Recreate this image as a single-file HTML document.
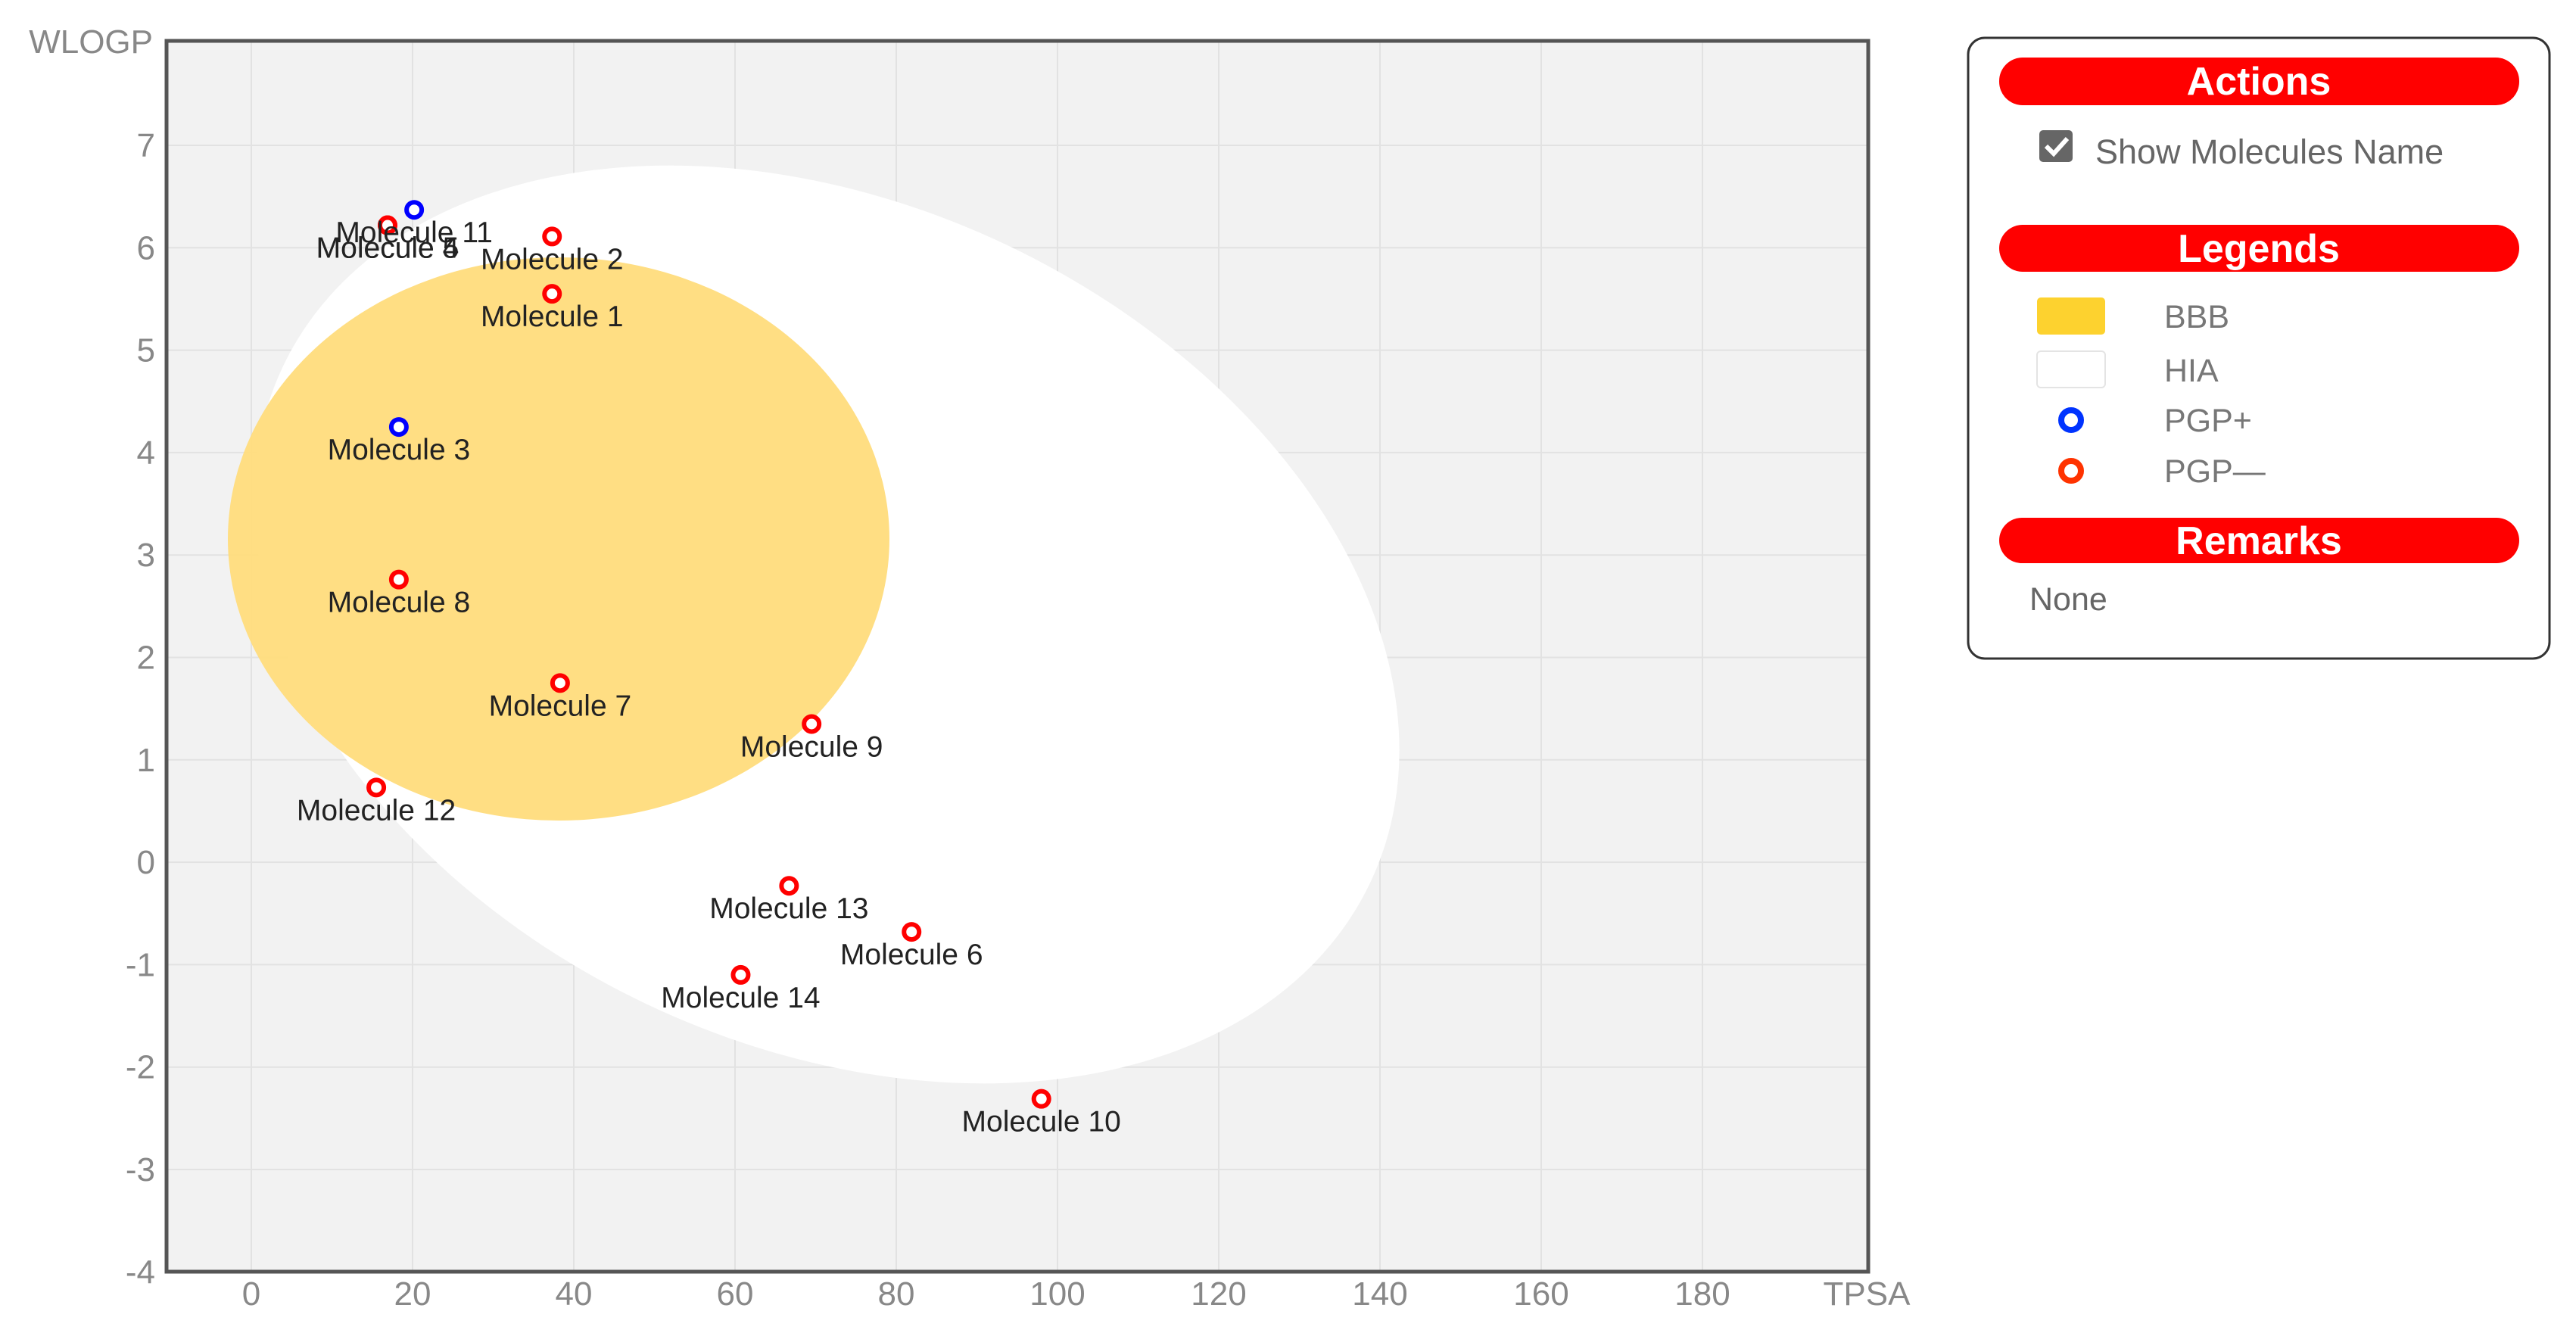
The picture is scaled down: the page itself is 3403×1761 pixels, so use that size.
<!DOCTYPE html>
<html><head><meta charset="utf-8"><style>
html,body{margin:0;padding:0;background:#fff;width:3403px;height:1761px;overflow:hidden;font-family:"Liberation Sans",sans-serif;}
</style></head><body>
<svg id="chart" width="3403" height="1761" viewBox="0 0 3403 1761" xmlns="http://www.w3.org/2000/svg" font-family="Liberation Sans, sans-serif">
  <rect x="220" y="54" width="2248" height="1626" fill="#f2f2f2"/>
  <g id="grid"></g>
  <ellipse cx="1092" cy="825" rx="795" ry="555" transform="rotate(25.4 1092 825)" fill="#ffffff"/>
  <ellipse cx="738" cy="712" rx="437" ry="372" fill="#ffdc7c" fill-opacity="0.95"/>
  <g id="points"></g>
  <rect x="220" y="54" width="2248" height="1626" fill="none" stroke="#555" stroke-width="5"/>
  <g id="axes" fill="#888" font-size="44"></g>
  <text x="202" y="70" text-anchor="end" fill="#888" font-size="44">WLOGP</text>
  <text x="2466" y="1724" text-anchor="middle" fill="#888" font-size="44">TPSA</text>

  <g>
    <rect x="2600" y="50" width="768" height="820" rx="22" fill="#fff" stroke="#333" stroke-width="3"/>
    <rect x="2641" y="76" width="687" height="63" rx="31" fill="#ff0000"/>
    <text x="2984" y="125" text-anchor="middle" fill="#fff" font-size="52" font-weight="bold">Actions</text>
    <g>
      <rect x="2694" y="172" width="44" height="42" rx="5" fill="#666"/>
      <path d="M2703 193 l10 10 l18 -20" stroke="#fff" stroke-width="6" fill="none"/>
    </g>
    <text x="2768" y="216" fill="#666" font-size="45">Show Molecules Name</text>
    <rect x="2641" y="297" width="687" height="62" rx="31" fill="#ff0000"/>
    <text x="2984" y="346" text-anchor="middle" fill="#fff" font-size="52" font-weight="bold">Legends</text>
    <rect x="2691" y="393" width="90" height="49" rx="5" fill="#fdd22f"/>
    <text x="2859" y="433" fill="#777" font-size="43">BBB</text>
    <rect x="2691" y="464" width="90" height="48" rx="5" fill="#fff" stroke="#e4e4e4" stroke-width="2"/>
    <text x="2859" y="504" fill="#777" font-size="43">HIA</text>
    <circle cx="2736" cy="555" r="13" fill="#fff" stroke="#0033ff" stroke-width="8"/>
    <text x="2859" y="570" fill="#777" font-size="43">PGP+</text>
    <circle cx="2736" cy="622" r="13" fill="#fff" stroke="#ff3300" stroke-width="8"/>
    <text x="2859" y="637" fill="#777" font-size="43">PGP—</text>
    <rect x="2641" y="684" width="687" height="60" rx="30" fill="#ff0000"/>
    <text x="2984" y="732" text-anchor="middle" fill="#fff" font-size="52" font-weight="bold">Remarks</text>
    <text x="2681" y="806" fill="#666" font-size="43">None</text>
  </g>
</svg>
<script>
const names = ["Molecule 1","Molecule 2","Molecule 3","Molecule 4","Molecule 5","Molecule 6","Molecule 7","Molecule 8","Molecule 9","Molecule 10","Molecule 11","Molecule 12","Molecule 13","Molecule 14"];
const tpsa = [37.3,37.3,18.3,16.9,16.9,81.9,38.3,18.3,69.5,98.0,20.2,15.5,66.7,60.7];
const wlogp = [5.55,6.11,4.25,6.22,6.22,-0.68,1.75,2.76,1.35,-2.31,6.37,0.73,-0.23,-1.10];
const pgp = ["-","-","+","-","-","-","-","-","-","-","+","-","-","-"];
const xTicks = [0,20,40,60,80,100,120,140,160,180];
const yTicks = [-4,-3,-2,-1,0,1,2,3,4,5,6,7];

const NS = "http://www.w3.org/2000/svg";
function xs(v){ return 332 + v*10.65; }
function ys(v){ return 192 + (7 - v)*135.3; }
function mk(tag, attrs, parent){ const e=document.createElementNS(NS,tag); for(const k in attrs) e.setAttribute(k,attrs[k]); parent.appendChild(e); return e; }

const grid=document.getElementById('grid'), axes=document.getElementById('axes'), pts=document.getElementById('points');
xTicks.forEach(t=>{
  const l=mk('line',{x1:xs(t),x2:xs(t),y1:54,y2:1680,stroke:'#e2e2e2','stroke-width':2},grid);
  
  
  const tx=mk('text',{x:xs(t),y:1724,'text-anchor':'middle'},axes);
  
  
  tx.textContent=t;
});
yTicks.forEach(t=>{
  const l=mk('line',{x1:220,x2:2468,y1:ys(t),y2:ys(t),stroke:'#e2e2e2','stroke-width':2},grid);
  
  
  const tx=mk('text',{x:205,y:ys(t)+15,'text-anchor':'end'},axes);
  
  
  tx.textContent=t;
});
names.forEach((n,i)=>{
  const c=mk('circle',{cx:xs(tpsa[i]),cy:ys(wlogp[i]),r:10,fill:'#fff',stroke:pgp[i]==='+'?'#0000ff':'#ff0000','stroke-width':6},pts);
  
  
  const tx=mk('text',{x:xs(tpsa[i]),y:ys(wlogp[i])+43,'text-anchor':'middle','font-size':39,fill:'#222'},pts);
  
  
  tx.textContent=n;
});
</script>
</body></html>
